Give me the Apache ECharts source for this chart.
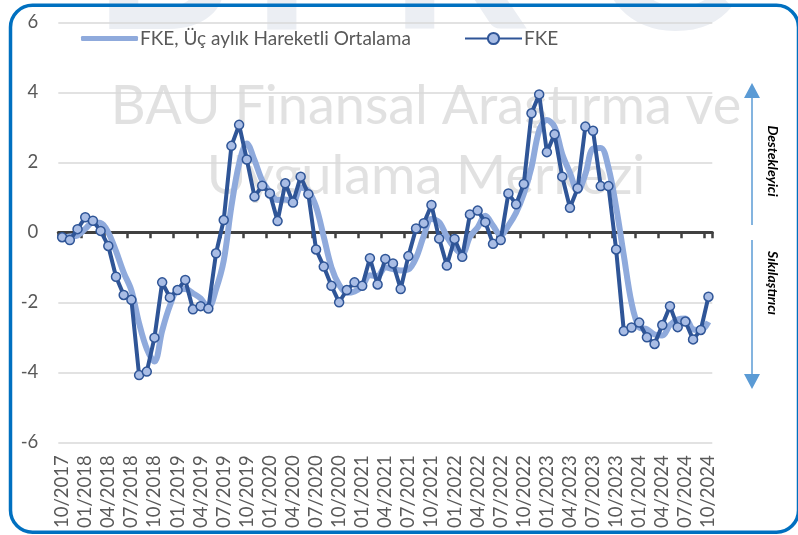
<!DOCTYPE html>
<html><head><meta charset="utf-8">
<script src="https://cdn.jsdelivr.net/npm/echarts@6/dist/echarts.min.js"></script>
<style>html,body{margin:0;padding:0;background:#fff}#c{width:798px;height:535px}</style>
</head><body><div id="c"></div>
<script>
const categories = [
'10/2017','11/2017','12/2017',
'01/2018','02/2018','03/2018','04/2018','05/2018','06/2018','07/2018','08/2018','09/2018','10/2018','11/2018','12/2018',
'01/2019','02/2019','03/2019','04/2019','05/2019','06/2019','07/2019','08/2019','09/2019','10/2019','11/2019','12/2019',
'01/2020','02/2020','03/2020','04/2020','05/2020','06/2020','07/2020','08/2020','09/2020','10/2020','11/2020','12/2020',
'01/2021','02/2021','03/2021','04/2021','05/2021','06/2021','07/2021','08/2021','09/2021','10/2021','11/2021','12/2021',
'01/2022','02/2022','03/2022','04/2022','05/2022','06/2022','07/2022','08/2022','09/2022','10/2022','11/2022','12/2022',
'01/2023','02/2023','03/2023','04/2023','05/2023','06/2023','07/2023','08/2023','09/2023','10/2023','11/2023','12/2023',
'01/2024','02/2024','03/2024','04/2024','05/2024','06/2024','07/2024','08/2024','09/2024','10/2024'
];
const fke = [
-0.14,-0.22,0.09,
0.43,0.33,0.04,-0.39,-1.27,-1.79,-1.93,-4.08,-3.98,-3.01,-1.43,-1.86,
-1.65,-1.36,-2.20,-2.11,-2.18,-0.60,0.35,2.47,3.07,2.08,1.02,1.33,
1.11,0.32,1.40,0.85,1.59,1.09,-0.49,-0.98,-1.53,-2.00,-1.65,-1.43,
-1.53,-0.74,-1.49,-0.76,-0.89,-1.62,-0.68,0.11,0.26,0.78,-0.18,-0.95,
-0.19,-0.70,0.51,0.62,0.29,-0.33,-0.22,1.11,0.80,1.38,3.40,3.94,
2.29,2.80,1.59,0.70,1.26,3.02,2.90,1.32,1.32,-0.49,-2.82,-2.72,
-2.58,-3.00,-3.19,-2.65,-2.11,-2.71,-2.55,-3.06,-2.79,-1.84
];
const fkeMA = [
-0.15,-0.12,-0.09,
0.10,0.28,0.27,-0.01,-0.54,-1.15,-1.66,-2.60,-3.33,-3.69,-2.81,-2.10,
-1.65,-1.62,-1.74,-1.89,-2.16,-1.63,-0.81,0.74,1.96,2.54,2.06,1.48,
1.15,0.92,0.94,0.86,1.28,1.18,0.73,-0.13,-1.00,-1.50,-1.73,-1.69,
-1.54,-1.23,-1.25,-1.00,-1.05,-1.09,-1.06,-0.73,-0.10,0.38,0.29,-0.12,
-0.44,-0.61,-0.13,0.14,0.47,0.19,-0.09,0.19,0.56,1.10,1.86,2.91,
3.21,3.01,2.23,1.70,1.18,1.66,2.39,2.41,1.85,0.72,-0.66,-2.01,
-2.71,-2.77,-2.92,-2.95,-2.65,-2.49,-2.46,-2.77,-2.80,-2.56
];
const yTicks = {min: -6, max: 6, interval: 2};
const seriesNames = ['FKE, Üç aylık Hareketli Ortalama', 'FKE'];
const sideLabels = ['Destekleyici', 'Sıkılaştırıcı'];
const watermark = ['BAU Finansal Araştırma ve', 'Uygulama Merkezi'];
const logoLetters = ['B', 'F', 'R', 'C'];

const FONT = 'Lato, "Open Sans", sans-serif';
const TXT = '#595959';
const chart = echarts.init(document.getElementById('c'), null, {renderer: 'canvas'});

const logoX = [92, 250, 388, 592];
const graphics = [];
logoLetters.forEach((ch, i) => {
  graphics.push({type: 'text', z: -10, x: logoX[i], y: -40,
    style: {text: ch, fill: '#ebeef3', fontSize: 215, fontWeight: 'bold', fontFamily: 'Lato',
      align: 'left', verticalAlign: 'middle', textAlign: 'left', textVerticalAlign: 'middle'}});
});
watermark.forEach((t, i) => {
  graphics.push({type: 'text', z: -5, x: 426, y: 107 + i * 70,
    style: {text: t, fill: 'rgba(195,195,195,0.5)', fontSize: 54, fontFamily: 'Lato',
      align: 'center', verticalAlign: 'middle', textAlign: 'center', textVerticalAlign: 'middle'}});
});
// arrows
const AC = '#5B9BD5';
graphics.push({type: 'line', z: 10, shape: {x1: 752, y1: 96, x2: 752, y2: 225}, style: {stroke: AC, lineWidth: 1.5}});
graphics.push({type: 'polygon', z: 10, shape: {points: [[752, 83], [744, 98], [760, 98]]}, style: {fill: AC}});
graphics.push({type: 'line', z: 10, shape: {x1: 752, y1: 240, x2: 752, y2: 376}, style: {stroke: AC, lineWidth: 1.5}});
graphics.push({type: 'polygon', z: 10, shape: {points: [[752, 389], [744, 374], [760, 374]]}, style: {fill: AC}});
sideLabels.forEach((t, i) => {
  graphics.push({type: 'text', z: 10, x: 773, y: i === 0 ? 161 : 283, rotation: -Math.PI / 2,
    style: {text: t, fill: '#000', fontSize: 14, fontWeight: 'bold', fontStyle: 'italic', fontFamily: 'Lato',
      align: 'center', verticalAlign: 'middle', textAlign: 'center', textVerticalAlign: 'middle'}});
});
// border
graphics.push({type: 'rect', z: 20, shape: {x: 10.5, y: 5.3, width: 788, height: 527, r: 22},
  style: {fill: 'none', stroke: '#0070C0', lineWidth: 3.5}});

chart.setOption({
  animation: false,
  backgroundColor: '#fff',
  textStyle: {fontFamily: FONT},
  grid: {left: 58.3, right: 85.7, top: 22.3, bottom: 92.7, containLabel: false},
  legend: [
    {data: [{name: seriesNames[0], icon: 'roundRect'}], left: 81, top: 29, padding: 0, itemWidth: 57, itemHeight: 5, itemGap: 0,
      itemStyle: {color: '#8FAADC'},
      textStyle: {color: TXT, fontSize: 19, fontFamily: FONT, padding: [0, 0, 0, -3]}},
    {data: [seriesNames[1]], left: 464, top: 29, padding: 0, itemWidth: 57, itemHeight: 14, itemGap: 0,
      textStyle: {color: TXT, fontSize: 19, fontFamily: FONT, padding: [0, 0, 0, -3]}}
  ],
  xAxis: [
    {type: 'category', data: categories, position: 'bottom',
      axisLine: {show: false, onZero: false}, axisTick: {show: false}, splitLine: {show: false},
      axisLabel: {interval: 2, rotate: 90, margin: 13, color: TXT, fontSize: 18.5, fontFamily: FONT}},
    {type: 'category', data: categories, position: 'bottom',
      axisLine: {show: true, onZero: true, lineStyle: {color: '#404040', width: 3}},
      axisTick: {show: true, interval: 2, length: 6, lineStyle: {color: '#404040', width: 2.5}},
      axisLabel: {show: false}, splitLine: {show: false}}
  ],
  yAxis: {type: 'value', min: yTicks.min, max: yTicks.max, interval: yTicks.interval,
    axisLine: {show: false}, axisTick: {show: false},
    splitLine: {lineStyle: {color: '#d9d9d9', width: 1.5}},
    axisLabel: {margin: 20, color: TXT, fontSize: 18.5, fontFamily: FONT}},
  series: [
    {name: seriesNames[0], type: 'line', data: fkeMA, xAxisIndex: 0, smooth: 0.35, symbol: 'none', z: 2,
      lineStyle: {color: '#8FAADC', width: 6}, itemStyle: {color: '#8FAADC'}},
    {name: seriesNames[1], type: 'line', data: fke, xAxisIndex: 0, symbol: 'circle', symbolSize: 9, z: 3,
      showAllSymbol: true,
      lineStyle: {color: '#2F5597', width: 4},
      itemStyle: {color: '#A9BDE5', borderColor: '#2F5597', borderWidth: 1.5}}
  ],
  graphic: graphics
});
</script></body></html>
